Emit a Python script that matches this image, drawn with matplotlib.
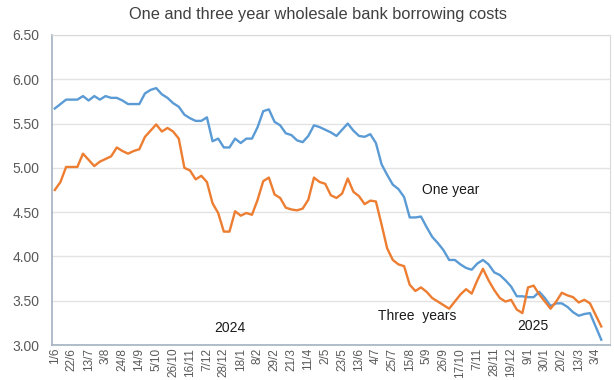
import matplotlib
matplotlib.use("Agg")
import matplotlib.pyplot as plt
import numpy as np

# weekly observations, 1/6/2023 to 10/4/2025 (last category left empty)
one_year = [
    5.67, 5.72, 5.77, 5.77, 5.77, 5.81, 5.76, 5.81, 5.77, 5.81,
    5.79, 5.79, 5.76, 5.72, 5.72, 5.72, 5.84, 5.88, 5.90, 5.83,
    5.79, 5.73, 5.69, 5.60, 5.56, 5.53, 5.53, 5.57, 5.30, 5.33,
    5.23, 5.23, 5.33, 5.28, 5.33, 5.33, 5.46, 5.64, 5.66, 5.52,
    5.48, 5.39, 5.37, 5.31, 5.29, 5.36, 5.48, 5.46, 5.43, 5.40,
    5.36, 5.43, 5.50, 5.42, 5.36, 5.35, 5.38, 5.28, 5.04, 4.92,
    4.81, 4.76, 4.67, 4.44, 4.44, 4.45, 4.33, 4.22, 4.15, 4.07,
    3.96, 3.96, 3.91, 3.87, 3.85, 3.92, 3.96, 3.91, 3.82, 3.79,
    3.73, 3.66, 3.55, 3.55, 3.54, 3.54, 3.60, 3.53, 3.44, 3.47,
    3.47, 3.43, 3.37, 3.33, 3.35, 3.36, 3.21, 3.06,
]
three_years = [
    4.75, 4.84, 5.01, 5.01, 5.01, 5.16, 5.09, 5.02, 5.07, 5.10,
    5.13, 5.23, 5.19, 5.16, 5.19, 5.21, 5.35, 5.42, 5.49, 5.41,
    5.45, 5.41, 5.33, 5.00, 4.97, 4.87, 4.91, 4.84, 4.60, 4.49,
    4.28, 4.28, 4.51, 4.46, 4.49, 4.47, 4.64, 4.85, 4.89, 4.70,
    4.66, 4.55, 4.53, 4.52, 4.54, 4.64, 4.89, 4.84, 4.82, 4.69,
    4.66, 4.71, 4.88, 4.73, 4.68, 4.59, 4.63, 4.62, 4.36, 4.09,
    3.96, 3.91, 3.89, 3.68, 3.61, 3.65, 3.60, 3.53, 3.49, 3.45,
    3.41, 3.49, 3.57, 3.63, 3.58, 3.73, 3.86, 3.73, 3.62, 3.53,
    3.49, 3.51, 3.40, 3.36, 3.65, 3.67, 3.57, 3.49, 3.41, 3.49,
    3.59, 3.56, 3.54, 3.48, 3.51, 3.47, 3.34, 3.21,
]
n_categories = 99
tick_labels = [
    "1/6", "22/6", "13/7", "3/8", "24/8", "14/9", "5/10", "26/10",
    "16/11", "7/12", "28/12", "18/1", "8/2", "29/2", "21/3", "11/4",
    "2/5", "23/5", "13/6", "4/7", "25/7", "15/8", "5/9", "26/9",
    "17/10", "7/11", "28/11", "19/12", "9/1", "30/1", "20/2", "13/3", "3/4",
]
y_ticks = [3.0, 3.5, 4.0, 4.5, 5.0, 5.5, 6.0, 6.5]

plt.rcParams["font.family"] = ["Liberation Sans", "DejaVu Sans"]

fig = plt.figure(figsize=(6.14, 3.80), dpi=100)
ax = fig.add_axes([0.0847, 0.0921, 0.9083, 0.8159])

x = np.arange(len(one_year))
ax.plot(x, one_year, color="#5B9BD5", lw=1.7, solid_joinstyle="round")
ax.plot(x, three_years, color="#ED7D31", lw=1.7, solid_joinstyle="round")

ax.set_xlim(-0.5, n_categories - 0.5)
ax.set_ylim(3.0, 6.5)
ax.set_xticks(np.arange(0, 3 * len(tick_labels), 3))
ax.set_xticklabels(tick_labels, rotation=90, fontsize=8.5, color="#595959")
ax.set_yticks(y_ticks)
ax.set_yticklabels([f"{v:.2f}" for v in y_ticks], fontsize=10, color="#595959")
ax.tick_params(axis="both", length=0)
ax.tick_params(axis="y", pad=9)
ax.tick_params(axis="x", pad=2)

ax.grid(axis="y", color="#E3E3E3", lw=1)
ax.set_axisbelow(True)
for side in ["left", "bottom"]:
    ax.spines[side].set_color("#A3B1C0")
    ax.spines[side].set_linewidth(1.2)
for side in ["top", "right"]:
    ax.spines[side].set_color("#D9D9D9")
    ax.spines[side].set_linewidth(0.8)

ax.text(70.2, 4.75, "One year", fontsize=10, ha="center", va="center", color="#1a1a1a")
ax.text(64.3, 3.33, "Three  years", fontsize=10, ha="center", va="center", color="#1a1a1a")
ax.text(31.1, 3.19, "2024", fontsize=10, ha="center", va="center", color="#1a1a1a")
ax.text(84.9, 3.21, "2025", fontsize=10, ha="center", va="center", color="#1a1a1a")

fig.text(0.518, 0.962, "One and three year wholesale bank borrowing costs",
         ha="center", va="center", fontsize=11.8, color="#404040")

fig.savefig("out.png", dpi=100)
